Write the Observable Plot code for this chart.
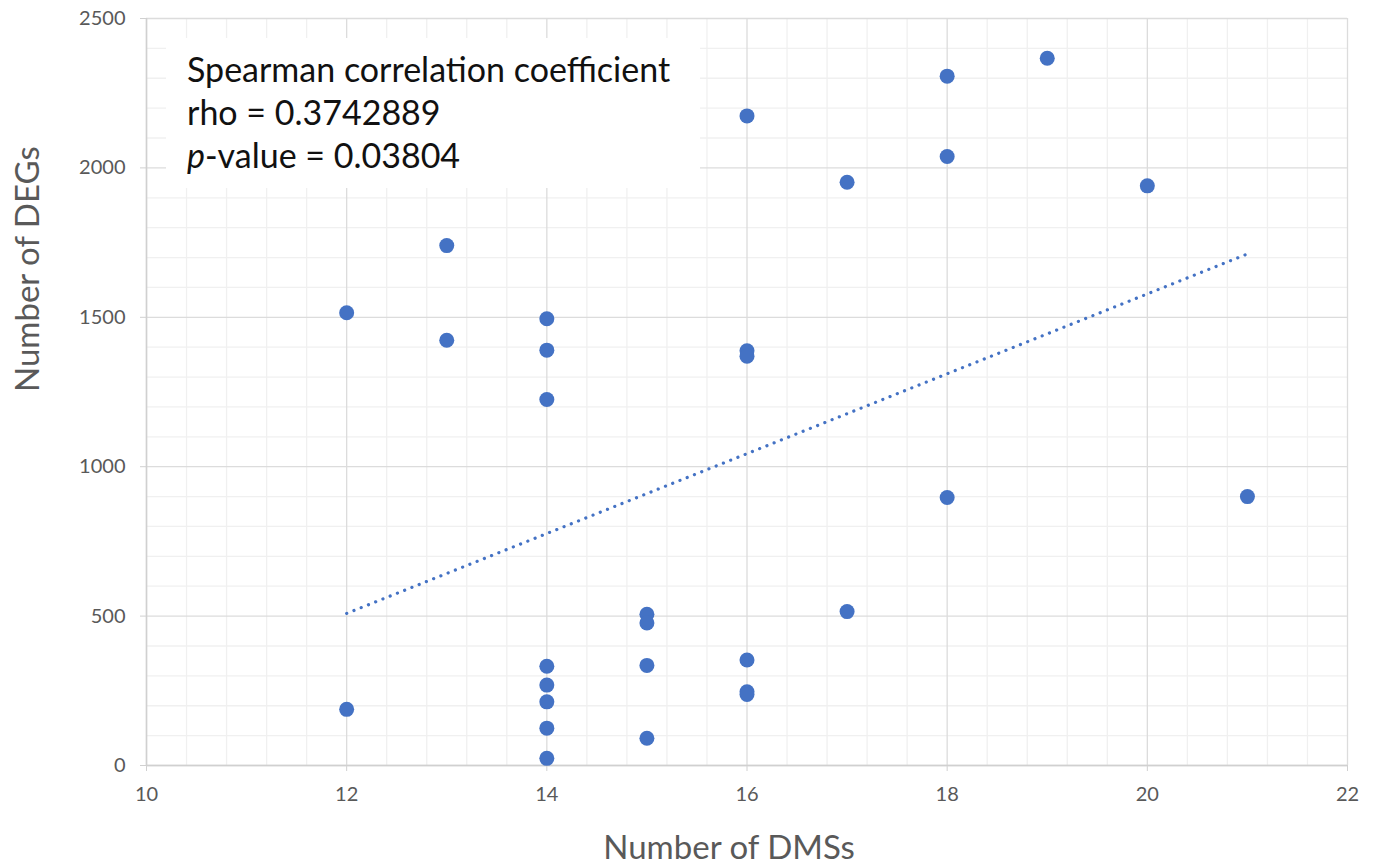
<!DOCTYPE html>
<html>
<head>
<meta charset="utf-8">
<script src="https://cdn.jsdelivr.net/npm/d3@7"></script>
<script src="https://cdn.jsdelivr.net/npm/@observablehq/plot@0.6"></script>
<style>
  html, body { margin: 0; padding: 0; background: #fff; }
  #wrap { position: relative; width: 1376px; height: 867px; }
  #note {
    position: absolute; left: 166px; top: 38px; width: 513px; height: 141px;
    background: #fff; padding: 9px 0 0 21px;
    font-family: Lato, "Open Sans", sans-serif; font-size: 34px; line-height: 43px; color: #111;
  }
</style>
</head>
<body>
<div id="wrap">
  <div id="chart"></div>
  <div id="note">
    <div>Spearman correlation coefficient</div>
    <div>rho = 0.3742889</div>
    <div><i>p</i>-value = 0.03804</div>
  </div>
</div>
<script>
// Number of DMSs (x) and Number of DEGs (y) for each sample
const dms = [12, 12, 13, 13, 14, 14, 14, 14, 14, 14, 14, 14, 15, 15, 15, 15, 16, 16, 16, 16, 16, 16, 17, 17, 18, 18, 18, 19, 20, 21];
const degs = [188, 1515, 1740, 1423, 1495, 1390, 1225, 332, 269, 213, 125, 24, 506, 477, 335, 91, 2174, 1388, 1370, 353, 247, 238, 1952, 515, 2307, 2038, 897, 2367, 1940, 900];

// Linear trendline (as drawn in the reference)
const trendX = [12, 21];
const trendY = [509, 1712];

// Axis ticks and gridlines
const xMajor = [10, 12, 14, 16, 18, 20, 22];
const xMinor = [10.4, 10.8, 11.2, 11.6, 12.4, 12.8, 13.2, 13.6, 14.4, 14.8, 15.2, 15.6, 16.4, 16.8, 17.2, 17.6, 18.4, 18.8, 19.2, 19.6, 20.4, 20.8, 21.2, 21.6];
const yMajor = [0, 500, 1000, 1500, 2000, 2500];
const yMinor = [100, 200, 300, 400, 600, 700, 800, 900, 1100, 1200, 1300, 1400, 1600, 1700, 1800, 1900, 2100, 2200, 2300, 2400];

const xTitle = "Number of DMSs";
const yTitle = "Number of DEGs";

const points = dms.map((x, i) => ({x, y: degs[i]}));
const trend = trendX.map((x, i) => ({x, y: trendY[i]}));

const chart = Plot.plot({
  width: 1376,
  height: 867,
  marginLeft: 146,
  marginRight: 29,
  marginTop: 18,
  marginBottom: 102,
  style: {fontFamily: "Lato, 'Open Sans', sans-serif", fontSize: "20px", color: "#595959", background: "#fff"},
  x: {domain: [10, 22], ticks: xMajor, tickFormat: d3.format("d"), tickSize: 6, tickPadding: 15, label: null},
  y: {domain: [0, 2500], ticks: yMajor, tickFormat: d3.format("d"), tickSize: 6, tickPadding: 15, label: null},
  marks: [
    Plot.ruleX(xMinor, {stroke: "#f0f0f0", strokeWidth: 1.3}),
    Plot.ruleY(yMinor, {stroke: "#f0f0f0", strokeWidth: 1.3}),
    Plot.ruleX(xMajor, {stroke: "#dcdcdc", strokeWidth: 1.3}),
    Plot.ruleY(yMajor, {stroke: "#dcdcdc", strokeWidth: 1.3}),
    Plot.ruleX([10], {stroke: "#d0d0d0", strokeWidth: 1.5}),
    Plot.ruleY([0], {stroke: "#d0d0d0", strokeWidth: 1.5}),
    Plot.line(trend, {x: "x", y: "y", stroke: "#4472C4", strokeWidth: 3.2, strokeDasharray: "0.1 7.7", strokeLinecap: "round"}),
    Plot.dot(points, {x: "x", y: "y", r: 7.5, fill: "#4472C4", stroke: "none"}),
    Plot.text([xTitle], {text: d => d, frameAnchor: "bottom", dx: -18, dy: 93, fontSize: 33, fill: "#595959"}),
    Plot.text([yTitle], {text: d => d, frameAnchor: "left", rotate: -90, dx: -118, fontSize: 33, fill: "#595959"})
  ]
});

// light gray tick marks
chart.querySelectorAll('[aria-label="x-axis tick"], [aria-label="y-axis tick"]').forEach(g => g.setAttribute("stroke", "#d0d0d0"));
chart.querySelectorAll('.tick line').forEach(l => l.setAttribute("stroke", "#d0d0d0"));

document.getElementById("chart").appendChild(chart);
</script>
</body>
</html>
